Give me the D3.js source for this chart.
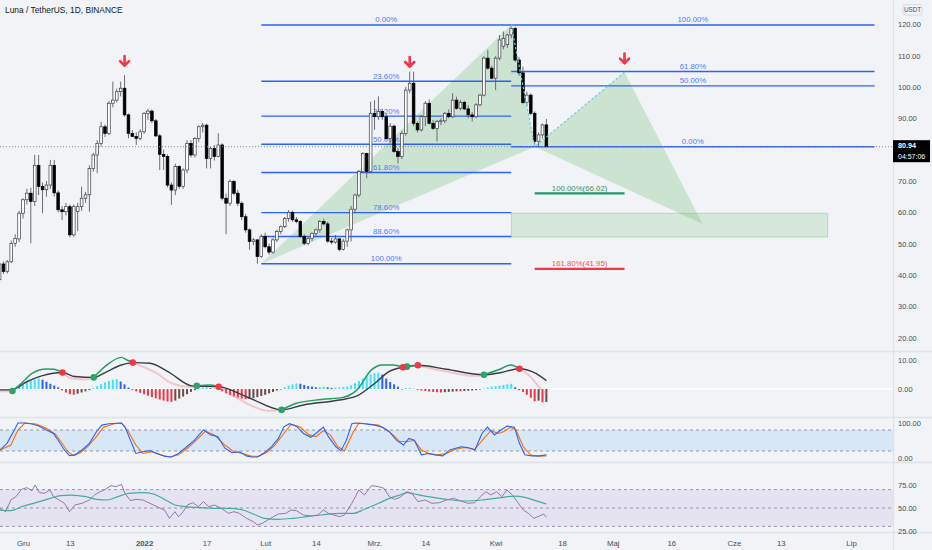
<!DOCTYPE html>
<html><head><meta charset="utf-8">
<script src="https://cdn.jsdelivr.net/npm/d3@7"></script>
<style>
body{margin:0;background:#f1f3f6;}
svg{display:block;font-family:"Liberation Sans",Arial,sans-serif;}
</style></head>
<body><svg id="c" width="932" height="550"></svg>
<script>
// ---------------- DATA ----------------
const title = "Luna / TetherUS, 1D, BINANCE";
const firstDay = "2021-11-25";
const opens = [38.5,43.5,41.1,44.2,50,51.5,59.7,64,66.1,63.5,75,68.2,67.2,68.7,75,66.2,60.8,60.2,61.8,52.8,60.3,61.8,64.5,65.6,74,78.3,82,87.3,85.2,94.8,95.8,98.5,99.6,91.1,85.2,84.2,83.6,85.7,91.6,92.3,89.2,84.4,78.5,77.8,68.7,67.1,74.6,68.3,73.5,82,78.3,83.6,87.3,87.8,77.2,80.4,77.8,81.5,64.5,62.9,69.8,66.1,62.9,58.6,54.4,50.7,51.2,45.9,52.3,49,47.3,51.2,53.9,55.4,58,60,57.6,57.1,52.3,50.1,51.7,53.3,54.4,57.1,56.3,50.8,50.5,51.5,48.2,50.8,54.4,61,65.5,73,78.8,73,91.6,90.5,92.2,90.5,83.5,87.5,79.4,77.8,85.2,99,101.2,88.4,86.3,90.5,94.8,88.4,86.8,89,89.2,91.6,90.5,95.8,93.2,95.1,93,91.1,90.5,94.3,97.4,109.2,106,102.8,109.2,113,113.5,116.6,118.7,108.6,104.5,95,97.4,91.6,82.6,84.7,87.9];
const highs = [44,44.3,44.8,51,53,60.5,64.5,67.5,67.8,78.3,78.3,69.5,70,76.7,76.7,67,62,63,62.5,62.5,63,68.2,66.5,75,79,83,88.9,88,95.5,101.7,99.5,101.7,103.8,91.5,86.2,85.5,86.5,92,93,92.8,89.8,85,80,78.5,69.5,75.5,75,74,83,83,84,87.8,88.5,88.3,81,81.5,85.2,82,66,70.5,70.3,67.2,63.5,59.5,54.8,51.8,51.5,53,53.5,50,51.8,54.5,55.8,58.5,60.7,60.5,58.5,57.5,53,52,53.6,54.8,57.6,58,57,51.8,52.8,51.8,51.5,54.8,62,66,73.5,79.2,79,95.3,95.8,97,93,91.5,88.5,88,80.5,86,100,104.9,104.9,89,91,95.5,96,89.5,89.5,90,92,92.8,98,96.9,95.8,95.6,94.2,92,94.8,97.8,109.8,111.8,106.8,109.8,116.6,117.7,117,119.8,119.2,109.5,106.5,98.5,98,92.2,85.5,88.3,89.8];
const lows = [37.8,40.3,40.5,43.8,49,50.5,58,62.5,50.1,62,65.5,59.7,65,67.5,65,60,57.5,59,52,52.2,54,60.5,63,60.2,73,72.5,81,84,84.6,93.5,95,97,90.5,83.6,84,81.5,83,85,89.5,88.5,84,73.5,73.5,68,62.4,65.5,67.5,67.5,72.5,77.5,77.5,82.5,85.5,74,74,76.5,77.5,63.8,53,62,65.5,62,57.5,53.5,48,49.5,43.6,45.5,48.5,46.5,46.8,50.5,53,55,57,57,56.5,51.8,49.5,49.5,50.8,52.5,53.5,55.8,50.3,49.8,50,47.5,47.8,49,50.7,59.7,64.8,72.5,70.9,72.5,86.3,89.5,89.5,83,82,79,75.6,77,84.5,98,87.5,85.5,85.8,87.5,88,86.3,82.6,87.8,88.5,90,90,92.8,92.5,92.6,90,89,90,93.8,97,105.5,102.5,99,108.5,112,112.5,115.5,108,103.5,94.5,93.8,91,80.9,81,83.5,80.7];
const closes = [43.5,41.1,44.2,50,51.7,59.7,64,66.1,63.5,75,68.2,67.2,68.7,75,66.2,60.8,60.2,61.8,52.8,61.8,61.8,64.5,65.6,74,78.3,82,87.3,85.2,94.8,95.8,98.5,99.6,91.1,85.2,84.2,83.6,85.7,91.6,92.3,89.2,84.4,78.5,77.8,68.7,67.1,74.6,68.3,73.5,82,78.3,83.6,87.3,87.8,77.2,80.4,77.8,81.5,64.5,62.9,69.8,66.1,62.9,58.6,54.4,50.7,51.2,45.9,52.3,49,47.3,51.2,53.9,55.4,58,60,57.6,57.1,52.3,50.1,51.7,53.3,54.4,57.1,56.3,50.8,50.5,51.5,48.2,50.8,54.4,61,65.5,73,78.8,73,91.6,90.5,92.2,90.5,83.5,87.5,79.4,77.8,85.2,99,101.2,88.4,86.3,90.5,94.8,88.4,86.8,89,89.2,91.6,90.5,95.8,93.2,95.1,93,91.1,90.5,94.3,97.4,109.2,106,102.8,109.2,115,115.5,116.6,118.7,108.6,104.5,95,97.4,91.6,82.6,84.7,87.9,80.94];
const lastPrice = 80.94, countdown = "04:57:06";
// MACD histogram, one value per candle
const macdHist = [-0.2,-0.2,-0.1,0.1,0.3,0.8,1.5,2.2,2.8,3.3,3.6,3.2,2.5,1.8,1.2,0.6,-0.5,-1.2,-1.8,-2.0,-1.6,-1.2,-0.8,-0.4,0.3,1.0,1.7,2.3,2.8,3.2,3.4,2.6,1.6,0.5,-0.3,-0.8,-1.3,-1.8,-2.3,-2.8,-3.2,-3.6,-4.0,-4.3,-4.4,-4.0,-3.3,-2.6,-1.8,-1.0,-0.4,0.3,0.5,0.6,0.3,0.1,-0.2,-0.8,-1.5,-2.1,-2.6,-3.0,-3.3,-3.5,-3.4,-3.1,-2.8,-2.4,-2.0,-1.5,-1.0,-0.5,-0.2,0.6,1.2,1.6,1.9,1.8,1.4,1.0,0.8,0.6,0.7,0.8,0.6,0.4,0.5,0.6,0.7,0.9,1.3,2.0,2.8,3.6,4.4,5.0,5.5,5.6,5.0,3.6,2.4,1.6,0.8,-0.2,0.3,0.4,0.1,-0.3,-0.5,-0.7,-0.9,-1.0,-1.1,-1.2,-1.1,-1.0,-0.9,-0.8,-0.8,-0.7,-0.6,-0.5,-0.4,-0.2,0.2,0.5,0.8,1.0,1.2,1.4,1.6,1.8,0.6,-0.4,-1.0,-2.0,-3.0,-4.2,-4.0,-4.6,-4.5];
// [days since 2021-12-01, value]
const macdLine = [[-5.9,-0.9],[-2.7,-0.7],[-0.4,2.0],[2.3,5.4],[6,6.9],[7.8,6.8],[10.1,5.7],[12.4,3.7],[16.1,3.3],[18.1,4.0],[21.5,8.3],[25.2,10.9],[26.6,10.0],[28.1,9.1],[30.7,7.7],[34.3,5.4],[38,2.0],[42.6,0.8],[44.5,1.1],[48.1,1.4],[50.1,0.8],[53.6,-2.1],[58.1,-5.5],[62.7,-7.5],[66.2,-7.2],[70,-4.9],[76.4,-3.6],[81.9,-2.9],[85.5,-0.3],[89.2,6.6],[92,8.3],[94.7,8.3],[97.3,7.5],[98.3,7.7],[101.1,8.2],[108.4,6.0],[115.7,4.5],[118,4.9],[122.1,6.8],[124.9,8.3],[127.1,7.0],[130.3,3.7],[132,0.8],[134,-1.5]];
const signalLine = [[-5.9,-0.3],[-3.1,-0.3],[1,2.5],[5,4.6],[10.1,5.7],[13.3,4.3],[18.1,4.0],[21.5,6.0],[25,8.2],[28.1,9.1],[32.5,8.9],[37.1,6.0],[43.5,1.0],[50.1,0.8],[58.1,-3.2],[66.2,-7.2],[71.8,-5.5],[81,-3.8],[85.5,-2.4],[90.1,2.0],[93.7,6.0],[97.3,7.5],[101.1,8.2],[108.4,6.8],[118,4.9],[122.1,5.6],[127.1,7.0],[131.3,5.4],[134,2.9]];
const crossUp = [[-2.7,-0.7],[18.1,4.0],[44.5,1.1],[66.2,-7.2],[98.3,7.7],[118,4.9]];
const crossDown = [[10.1,5.7],[28.1,9.1],[50.1,0.8],[97.3,7.5],[101.1,8.2],[127.1,7.0]];
const stochK = [[-5.9,23],[-4.1,42],[-2.2,80],[-1.3,100],[0.5,100],[2.3,97],[4.2,91],[6,80],[7.8,70],[9.2,47],[10.6,23],[11.9,7],[13.3,9],[15.1,23],[17,42],[18.8,75],[20.2,94],[22,98],[25.2,100],[26.1,89],[27.5,51],[28.9,13],[30.7,18],[32.5,21],[34.3,13],[36.2,5],[38,3],[39.8,13],[41.7,30],[43.9,51],[46.2,80],[48.1,66],[49.9,61],[51.7,28],[53.5,15],[55.4,18],[57.2,6],[58.6,3],[60,3],[61.8,15],[63.6,32],[65.4,56],[66.8,89],[68.2,98],[70,91],[71.8,70],[73.7,59],[75.5,75],[76.9,88],[78.2,61],[80.1,32],[81.4,21],[82.8,51],[84.2,98],[85.1,100],[87.4,98],[90.1,94],[92,88],[93.8,75],[95.6,51],[97.4,37],[98.8,56],[100.2,51],[102,9],[103.8,13],[105.7,9],[107.5,6],[109.3,23],[112.1,32],[113.9,30],[115.7,23],[117.5,70],[118.9,88],[120.7,66],[122.1,78],[123.9,91],[125.8,88],[127.1,42],[128.5,9],[130.3,6],[132.2,6],[134,9.5]];
const stochD = [[-5.9,23],[-3.1,37],[-1.3,80],[0.5,100],[3.3,97],[6,85],[8.3,68],[9.7,47],[11.5,18],[12.9,7],[14.7,15],[16.5,32],[18.8,61],[20.6,88],[23.4,98],[25.2,100],[27,75],[28.9,37],[30.7,13],[33,18],[35.3,9],[37.5,3],[39.8,9],[42.1,28],[44.4,51],[46.7,77],[49,66],[51.7,37],[54,18],[56.3,13],[58.6,5],[60.4,5],[62.7,18],[64.5,37],[66.8,70],[68.6,96],[70.9,89],[73.2,66],[75,61],[76.9,78],[78.7,66],[80.5,34],[82.3,21],[84.6,75],[86,100],[88.3,97],[91,94],[92.9,82],[94.7,66],[96.5,47],[98.4,47],[100.2,50],[102,23],[104.3,11],[106.1,9],[108.4,13],[110.7,25],[113,30],[115.7,25],[118,56],[119.8,78],[121.7,70],[123,75],[124.9,88],[126.2,80],[128.1,32],[129.9,9],[131.7,5],[134,6]];
const rsiLine = [[-5.9,49.6],[-4.5,46],[-3.1,58.7],[-1.8,62.3],[-0.4,70.3],[1,72.1],[2.3,68.8],[3.1,75],[4.2,66.7],[5.5,65.9],[6.9,69.6],[7.8,62.3],[9.2,58.7],[10.6,55.1],[11.9,46],[13.3,53.3],[15.1,55.1],[17,58.7],[18.3,64.1],[19.7,67.7],[21.1,70.3],[22.5,74.3],[23.8,73.2],[25.2,75.7],[26.1,65.9],[27.5,58],[28.9,59.4],[30.7,58.7],[32.5,55.1],[34.3,51.4],[36.2,47.8],[37.5,38.8],[38.9,46],[39.8,40.6],[40.7,44.2],[42.1,53.3],[43.5,55.8],[44.9,51.4],[46.2,56.9],[47.6,51.4],[49,53.3],[50.8,49.6],[52.6,44.2],[54,46],[55.4,44.2],[57.2,38.8],[59,35.1],[60,31.5],[61.3,33.3],[62.7,37],[64.1,40.6],[65.4,43.5],[67.3,44.2],[68.6,47.8],[70,47.1],[71.8,42.4],[73.7,41.3],[75.5,42.4],[76.9,47.8],[78.2,44.2],[79.6,42.4],[81,40.6],[82.3,42.4],[84.2,55.1],[86,69.6],[87.4,64.1],[89.2,74.3],[91,73.2],[92.4,71.4],[93.8,62.3],[95.1,59.4],[96.5,61.6],[98.3,67.7],[99.7,65.2],[101.1,56.9],[102.9,58.7],[104.7,55.1],[106.6,55.8],[108.4,58.7],[110.2,60.5],[112.1,57.6],[113.9,55.1],[115.7,55.8],[117.1,62.3],[118.5,67.7],[119.8,64.1],[121.2,67.7],[122.6,62.3],[123.9,69.6],[125.3,64.1],[126.7,55.8],[128.1,47.8],[129.4,44.2],[130.8,38.8],[132.2,41.3],[133.3,43.5],[134,40]];
const rsiMA = [[-5.9,47.8],[-3.1,47.1],[-0.4,51.4],[3.3,55.8],[7,60.5],[9.7,63.4],[12.4,64.1],[16.1,62.3],[18.8,59.4],[21.5,58.7],[24.3,62.3],[27,65.9],[30.7,66.7],[33.4,65.2],[36.2,59.4],[38.9,53.3],[41.7,51.4],[45.3,50.4],[49,49.6],[53.5,49.6],[56.3,47.8],[59,43.5],[61.8,38.8],[65.4,37.7],[69.1,38.8],[72.7,40.6],[76.4,42.4],[81,44.2],[84.6,44.2],[87.4,48.6],[91,55.1],[93.8,60.5],[96.5,64.1],[98.4,66.7],[100.2,65.2],[103.8,62.3],[108.4,59.4],[113,57.6],[117.5,58.7],[122.1,61.2],[125.8,63],[128.5,61.6],[131.2,58],[134,54.4]];
// drawings
const patternDates = ["2022-01-31","2022-04-05","2022-04-11","2022-05-04","2022-05-24"]; // X A B C D
const patternPrices = [43.6,119.8,80.9,104.7,56.3];
const fibLevels = [0,0.236,0.382,0.5,0.618,0.786,0.886,1];
const fibLabels = ["0.00%","23.60%","38.20%","50.00%","61.80%","78.60%","88.60%","100.00%"];
const fib2Levels = [1,0.618,0.5,0];
const fib2Labels = ["100.00%","61.80%","50.00%","0.00%"];
const fib2End = "2022-07-07";
const zoneDates = ["2022-04-05","2022-06-25"], zonePrices = [52.1,59.7];
const targetDates = ["2022-04-11","2022-05-04"];
const targetPrices = [66.02,41.95];
const targetLabels = ["100.00%(66.02)","161.80%(41.95)"];
const arrowDates = ["2021-12-27","2022-03-10","2022-05-04"];
const arrowPrices = [108.1,107.8,108.9];
const priceTicks = [20,30,40,50,60,70,90,100,110,120];
const macdTicks = [0,10], stochTicks = [0,100], rsiTicks = [25,50,75];
const tickDates = ["2021-12-01","2021-12-13","2022-01-01","2022-01-17","2022-02-01","2022-02-14","2022-03-01","2022-03-14","2022-04-01","2022-04-18","2022-05-01","2022-05-16","2022-06-01","2022-06-13","2022-07-01"];
const tickLabels = ["Gru","13","2022","17","Lut","14","Mrz.","14","Kwi","18","Maj","16","Cze","13","Lip"];

// ---------------- SETUP ----------------
const W = 932, H = 550, PR = 893;
const base = Date.UTC(2021, 11, 1);
const dayOf = s => (Date.parse(s + "T00:00:00Z") - base) / 864e5;
const x = d3.scaleLinear().domain([-5.888, 222.74]).range([0, PR]);
const yP = d3.scaleLinear().domain([20, 120]).range([337.65, 24.3]);
const yM = d3.scaleLinear().domain([0, 10]).range([389, 360]);
const yS = d3.scaleLinear().domain([0, 100]).range([458, 423]);
const yR = d3.scaleLinear().domain([25, 75]).range([531, 485]);
const svg = d3.select("#c");
svg.append("rect").attr("width", W).attr("height", H).attr("fill", "#f1f3f6");
const defs = svg.append("defs");
const clips = {main: [0, 0, PR, 351], macd: [0, 352, PR, 65], stoch: [0, 418, PR, 44], rsi: [0, 463, PR, 69]};
for (const k in clips) {
  const c = clips[k];
  defs.append("clipPath").attr("id", "cl-" + k).append("rect").attr("x", c[0]).attr("y", c[1]).attr("width", c[2]).attr("height", c[3]);
}
const gMain = svg.append("g").attr("clip-path", "url(#cl-main)");
const gMacd = svg.append("g").attr("clip-path", "url(#cl-macd)");
const gSt = svg.append("g").attr("clip-path", "url(#cl-stoch)");
const gRsi = svg.append("g").attr("clip-path", "url(#cl-rsi)");

const d0 = dayOf(firstDay);
const candles = opens.map((o, i) => ({d: d0 + i, o, h: highs[i], l: lows[i], c: closes[i], hist: macdHist[i]}));

// ---------------- MAIN PANE ----------------
const pX = patternDates.map(dayOf);
const pts = pX.map((d, i) => [x(d), yP(patternPrices[i])]);
const green = "rgba(76,175,80,0.22)";
gMain.append("path").attr("d", "M" + pts[0] + "L" + pts[1] + "L" + pts[2] + "Z").attr("fill", green);
gMain.append("path").attr("d", "M" + pts[2] + "L" + pts[3] + "L" + pts[4] + "Z").attr("fill", green);

const zx0 = x(dayOf(zoneDates[0])), zx1 = x(dayOf(zoneDates[1]));
gMain.append("rect").attr("x", zx0).attr("y", yP(zonePrices[1])).attr("width", zx1 - zx0)
  .attr("height", yP(zonePrices[0]) - yP(zonePrices[1])).attr("fill", "rgba(76,175,80,0.16)").attr("stroke", "rgba(76,175,80,0.3)");

const fibBlue = "#2962ff";
const f1x0 = x(pX[0]), f1x1 = x(pX[1]);
const fHi = patternPrices[1], fLo = patternPrices[0];
fibLevels.forEach((lv, i) => {
  const yy = yP(fHi - lv * (fHi - fLo));
  gMain.append("line").attr("x1", f1x0).attr("x2", f1x1).attr("y1", yy).attr("y2", yy).attr("stroke", fibBlue).attr("stroke-width", 1.4);
  gMain.append("text").attr("x", (f1x0 + f1x1) / 2).attr("y", yy - 2.5).attr("text-anchor", "middle")
    .attr("font-size", 7.8).attr("fill", "#4f7cf7").text(fibLabels[i]);
});
const f2x0 = x(pX[1]), f2x1 = x(dayOf(fib2End));
const gHi = patternPrices[1], gLo = patternPrices[2];
fib2Levels.forEach((lv, i) => {
  const yy = yP(gLo + lv * (gHi - gLo));
  gMain.append("line").attr("x1", f2x0).attr("x2", f2x1).attr("y1", yy).attr("y2", yy).attr("stroke", fibBlue).attr("stroke-width", 1.4);
  gMain.append("text").attr("x", (f2x0 + f2x1) / 2).attr("y", yy - 2.5).attr("text-anchor", "middle")
    .attr("font-size", 7.8).attr("fill", "#4f7cf7").text(fib2Labels[i]);
});

const tx0 = x(dayOf(targetDates[0])), tx1 = x(dayOf(targetDates[1]));
const tCol = ["#1e9a6a", "#f23645"], tTxt = ["#3f8f68", "#f05a4a"];
targetPrices.forEach((p, i) => {
  gMain.append("line").attr("x1", tx0).attr("x2", tx1).attr("y1", yP(p)).attr("y2", yP(p)).attr("stroke", tCol[i]).attr("stroke-width", 2.2);
  gMain.append("text").attr("x", (tx0 + tx1) / 2).attr("y", yP(p) - 2.5).attr("text-anchor", "middle")
    .attr("font-size", 7.8).attr("fill", tTxt[i]).text(targetLabels[i]);
});

const bw = 2.7;
const cg = gMain.append("g");
cg.selectAll(".wick").data(candles).join("line")
  .attr("x1", d => x(d.d)).attr("x2", d => x(d.d)).attr("y1", d => yP(d.h)).attr("y2", d => yP(d.l))
  .attr("stroke", "#5b5e66").attr("stroke-width", 0.9);
cg.selectAll(".body").data(candles).join("rect")
  .attr("x", d => x(d.d) - bw / 2).attr("width", bw)
  .attr("y", d => yP(Math.max(d.o, d.c))).attr("height", d => Math.max(0.8, Math.abs(yP(d.o) - yP(d.c))))
  .attr("fill", d => d.c >= d.o ? "#ffffff" : "#000000")
  .attr("stroke", d => d.c >= d.o ? "#3a3d45" : "#000").attr("stroke-width", 0.7);

gMain.append("path").attr("d", "M" + pts[1] + "L" + pts[2] + "L" + pts[3]).attr("fill", "none")
  .attr("stroke", "#5fd3e0").attr("stroke-width", 1.2).attr("stroke-dasharray", "2.5,2");

arrowDates.forEach((s, i) => {
  const ax = x(dayOf(s)), ay = yP(arrowPrices[i]);
  const g = gMain.append("g").attr("transform", `translate(${ax},${ay})`);
  g.append("path").attr("d", "M0,-5.5L0,4").attr("stroke", "#f23645").attr("stroke-width", 2.6).attr("stroke-linecap", "round");
  g.append("path").attr("d", "M-4.5,-0.5L0,4L4.5,-0.5").attr("fill", "none").attr("stroke", "#f23645").attr("stroke-width", 2.6).attr("stroke-linecap", "round").attr("stroke-linejoin", "round");
});

svg.append("line").attr("x1", 0).attr("x2", PR).attr("y1", yP(lastPrice)).attr("y2", yP(lastPrice))
  .attr("stroke", "#8a8d96").attr("stroke-width", 1).attr("stroke-dasharray", "1,2");

// ---------------- MACD ----------------
gMacd.append("line").attr("x1", 0).attr("x2", PR).attr("y1", yM(0)).attr("y2", yM(0)).attr("stroke", "#ffffff").attr("stroke-width", 1.6);
gMacd.selectAll(".h").data(candles).join("rect")
  .attr("x", d => x(d.d) - 1).attr("width", 2)
  .attr("y", d => Math.min(yM(0), yM(d.hist))).attr("height", d => Math.abs(yM(d.hist) - yM(0)))
  .attr("fill", (d, i) => {
    const prev = i > 0 ? candles[i - 1].hist : d.hist;
    if (d.hist >= 0) return d.hist >= prev ? "#3fe3f2" : "#2962ff";
    return d.hist <= prev ? "#f23645" : "#6e4a4a";
  });
const lineM = d3.line().x(d => x(d[0])).y(d => yM(d[1])).curve(d3.curveMonotoneX);
const events = crossUp.map(c => [c[0], 1]).concat(crossDown.map(c => [c[0], -1])).sort((a, b) => a[0] - b[0]);
const stateAt = dd => { let s = -1; events.forEach(e => { if (e[0] <= dd) s = e[1]; }); return s; };
const runs = [];
for (let i = 0; i < macdLine.length - 1; i++) {
  const st = stateAt((macdLine[i][0] + macdLine[i + 1][0]) / 2);
  if (!runs.length || runs[runs.length - 1].st !== st) runs.push({st, pts: [macdLine[i]]});
  runs[runs.length - 1].pts.push(macdLine[i + 1]);
}
runs.filter(r => r.st < 0).forEach(r => gMacd.append("path").attr("d", lineM(r.pts)).attr("fill", "none").attr("stroke", "rgba(242,120,120,0.35)").attr("stroke-width", 2));
gMacd.append("path").attr("d", lineM(signalLine)).attr("fill", "none").attr("stroke", "#3a3d45").attr("stroke-width", 1.4);
runs.filter(r => r.st > 0).forEach(r => gMacd.append("path").attr("d", lineM(r.pts)).attr("fill", "none").attr("stroke", "#1f9e62").attr("stroke-width", 1.4));
gMacd.selectAll(".cu").data(crossUp).join("circle").attr("cx", d => x(d[0])).attr("cy", d => yM(d[1])).attr("r", 3.3).attr("fill", "#2ca36b");
gMacd.selectAll(".cd").data(crossDown).join("circle").attr("cx", d => x(d[0])).attr("cy", d => yM(d[1])).attr("r", 3.3).attr("fill", "#f23645");

// ---------------- STOCH RSI ----------------
gSt.append("rect").attr("x", 0).attr("width", PR).attr("y", yS(80)).attr("height", yS(20) - yS(80)).attr("fill", "rgba(33,150,243,0.12)");
[80, 20].forEach(v => gSt.append("line").attr("x1", 0).attr("x2", PR).attr("y1", yS(v)).attr("y2", yS(v)).attr("stroke", "#8d9099").attr("stroke-dasharray", "3,3").attr("stroke-width", 0.9));
const lineS = d3.line().x(d => x(d[0])).y(d => yS(d[1]));
gSt.append("path").attr("d", lineS(stochD)).attr("fill", "none").attr("stroke", "#ff6d00").attr("stroke-width", 1.1);
gSt.append("path").attr("d", lineS(stochK)).attr("fill", "none").attr("stroke", "#2962ff").attr("stroke-width", 1.1);

// ---------------- RSI ----------------
gRsi.append("rect").attr("x", 0).attr("width", PR).attr("y", yR(70)).attr("height", yR(30) - yR(70)).attr("fill", "rgba(126,87,194,0.1)");
[70, 50, 30].forEach(v => gRsi.append("line").attr("x1", 0).attr("x2", PR).attr("y1", yR(v)).attr("y2", yR(v)).attr("stroke", "#8d9099").attr("stroke-dasharray", "3,3").attr("stroke-width", 0.9));
gRsi.append("path").attr("d", d3.line().x(d => x(d[0])).y(d => yR(d[1])).curve(d3.curveMonotoneX)(rsiMA)).attr("fill", "none").attr("stroke", "#3fae9c").attr("stroke-width", 1.2);
gRsi.append("path").attr("d", d3.line().x(d => x(d[0])).y(d => yR(d[1]))(rsiLine)).attr("fill", "none").attr("stroke", "#8f7aa8").attr("stroke-width", 1);

// ---------------- FRAME ----------------
[351.5, 417.5, 462.5, 532.5].forEach(yy => svg.append("line").attr("x1", 0).attr("x2", W).attr("y1", yy).attr("y2", yy).attr("stroke", "#dfe2e8").attr("stroke-width", 1.5));
svg.append("line").attr("x1", PR + 0.5).attr("x2", PR + 0.5).attr("y1", 0).attr("y2", H).attr("stroke", "#dfe2e8").attr("stroke-width", 1.2);

const axisStyle = (g) => { g.select(".domain").remove(); g.selectAll(".tick line").remove(); g.selectAll("text").attr("fill", "#4a4d55").attr("font-size", 7.5).attr("font-family", "Liberation Sans, Arial, sans-serif"); };
const fmt = d => d.toFixed(2);
svg.append("g").attr("transform", `translate(${PR + 2},0)`).call(d3.axisRight(yP).tickValues(priceTicks).tickFormat(fmt).tickSize(0).tickPadding(3)).call(axisStyle);
svg.append("g").attr("transform", `translate(${PR + 2},0)`).call(d3.axisRight(yM).tickValues(macdTicks).tickFormat(fmt).tickSize(0).tickPadding(3)).call(axisStyle);
svg.append("g").attr("transform", `translate(${PR + 2},0)`).call(d3.axisRight(yS).tickValues(stochTicks).tickFormat(fmt).tickSize(0).tickPadding(3)).call(axisStyle);
svg.append("g").attr("transform", `translate(${PR + 2},0)`).call(d3.axisRight(yR).tickValues(rsiTicks).tickFormat(fmt).tickSize(0).tickPadding(3)).call(axisStyle);

const ly = yP(lastPrice);
svg.append("rect").attr("x", PR).attr("y", ly - 6.5).attr("width", 37).attr("height", 22).attr("fill", "#000");
svg.append("text").attr("x", PR + 5).attr("y", ly + 1.8).attr("fill", "#fff").attr("font-size", 7.2).attr("font-weight", "bold").text(lastPrice.toFixed(2));
svg.append("text").attr("x", PR + 5).attr("y", ly + 12.2).attr("fill", "#fff").attr("font-size", 7).text(countdown);

svg.append("rect").attr("x", 903).attr("y", 4.5).attr("width", 19).attr("height", 10.5).attr("rx", 2).attr("fill", "#f1f3f6").attr("stroke", "#d1d4dc").attr("stroke-width", 0.8);
svg.append("text").attr("x", 912.5).attr("y", 12.3).attr("text-anchor", "middle").attr("font-size", 6.3).attr("fill", "#4a4d55").text("USDT");

const gx = svg.append("g").attr("transform", "translate(0,540)")
  .call(d3.axisBottom(x).tickValues(tickDates.map(dayOf)).tickFormat((d, i) => tickLabels[i]).tickSize(0).tickPadding(0));
gx.select(".domain").remove();
gx.selectAll("text").attr("fill", "#4a4d55").attr("font-size", 7.8).attr("dy", "0.71em").attr("font-family", "Liberation Sans, Arial, sans-serif")
  .attr("font-weight", (d, i) => tickLabels[i] === "2022" ? "bold" : "normal");

svg.append("text").attr("x", 5).attr("y", 13).attr("font-size", 8.4).attr("fill", "#131722").text(title);
</script></body></html>
